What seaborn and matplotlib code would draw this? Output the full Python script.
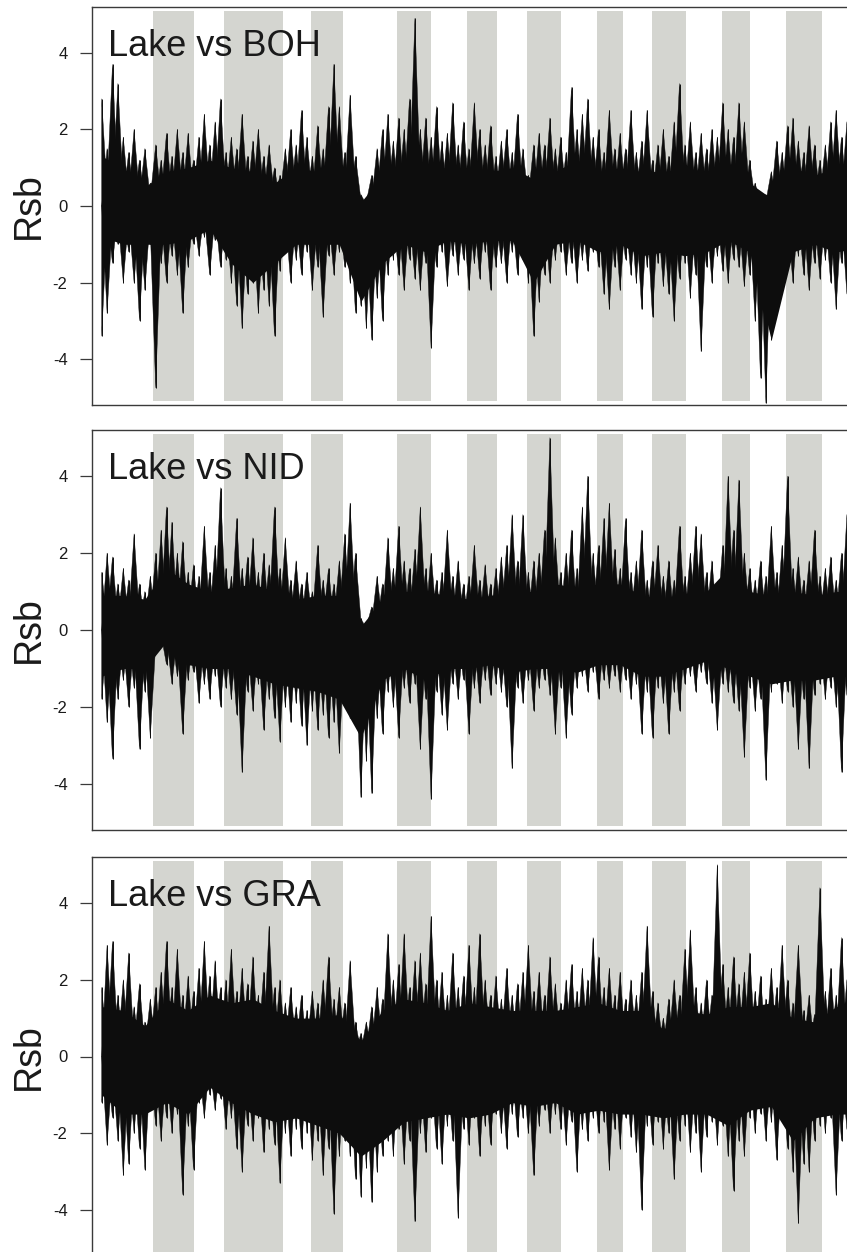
import numpy as np
import pandas as pd
import matplotlib
matplotlib.use("Agg")
import matplotlib.pyplot as plt
from matplotlib.collections import PolyCollection
import seaborn as sns

# ---------------- data ----------------
chrom_names = ["I", "II", "III", "IV", "V", "VI", "VII", "VIII", "IX", "X", "XI",
               "XII", "XIII", "XIV", "XV", "XVI", "XVII", "XVIII", "XIX", "XX", "XXI"]
chrom_len_mb = [28.5, 22.8, 16.6, 32.8, 15.6, 17.8, 30.0, 18.8, 20.0, 16.7, 16.7,
                18.9, 20.0, 14.4, 16.1, 18.9, 20.0, 15.6, 20.0, 20.0, 15.0]
window_mb = 3.0        # spacing of the peak (max / min) readings
body_window_mb = 12.0  # spacing of the dense-core readings

comparisons = ["Lake vs BOH", "Lake vs NID", "Lake vs GRA"]

# window maxima / minima of Rsb
boh_high = [2.8, 1.5, 3.7, 3.2, 1.8, 1.4, 2.0, 1.2, 1.5, 0.6, 1.6, 1.2, 1.9, 1.3, 2.0, 1.4, 1.9, 1.2, 1.8, 2.4,
            1.6, 2.2, 2.8, 1.4, 1.8, 1.5, 2.4, 1.3, 1.7, 2.0, 1.3, 1.6, 1.0, 0.8, 1.5, 2.0, 1.6, 2.5, 1.8, 1.3,
            2.1, 1.5, 2.6, 3.7, 2.6, 1.4, 2.9, 1.3, 0.3, 0.2, 0.8, 1.5, 2.0, 2.4, 1.7, 2.3, 2.0, 2.8, 4.9, 2.0,
            2.3, 1.8, 2.6, 1.7, 1.9, 2.7, 1.6, 2.2, 1.5, 2.7, 2.0, 1.6, 2.1, 1.3, 1.7, 2.0, 1.4, 2.4, 1.5, 0.8,
            1.6, 1.9, 1.6, 2.3, 1.5, 1.8, 1.4, 3.1, 2.0, 2.4, 2.8, 1.8, 2.0, 1.4, 2.5, 1.5, 1.9, 1.5, 2.5, 1.4,
            1.7, 2.5, 1.2, 1.6, 2.0, 1.3, 2.2, 3.2, 1.6, 2.2, 1.4, 1.9, 1.5, 2.0, 1.8, 2.7, 2.0, 1.8, 2.7, 2.2,
            1.2, 0.6, 0.2, 0.3, 0.9, 1.7, 1.4, 2.1, 2.3, 1.7, 1.4, 2.1, 1.6, 1.2, 1.6, 2.2, 2.5, 1.8, 2.2]
boh_low = [-3.4, -2.8, -1.5, -1.0, -2.0, -1.2, -2.0, -3.0, -2.2, -1.0, -4.75, -1.5, -2.0, -1.3, -1.8, -2.8,
           -1.6, -1.0, -1.3, -0.8, -1.8, -0.9, -1.6, -1.4, -2.0, -2.6, -3.2, -2.3, -2.0, -2.8, -2.2, -2.6,
           -3.4, -1.7, -1.2, -2.0, -1.4, -1.8, -1.2, -2.2, -1.6, -2.9, -1.3, -1.8, -1.2, -1.6, -2.0, -2.8,
           -2.6, -3.2, -3.5, -2.4, -3.0, -1.8, -1.4, -1.8, -2.2, -1.4, -1.9, -2.2, -1.5, -3.7, -1.6, -1.2,
           -2.1, -1.3, -1.8, -1.4, -2.2, -1.5, -1.9, -1.2, -2.2, -1.6, -1.5, -2.0, -1.2, -1.8, -1.4, -2.0,
           -3.4, -2.5, -1.8, -2.0, -1.4, -1.2, -1.8, -1.5, -2.0, -1.4, -1.7, -1.2, -1.6, -2.3, -2.7, -1.6,
           -2.2, -1.4, -1.8, -2.0, -2.7, -1.6, -2.9, -1.5, -2.1, -2.3, -3.0, -1.9, -1.5, -2.4, -1.8, -3.8,
           -1.6, -2.0, -1.3, -1.7, -2.0, -1.4, -1.6, -2.1, -1.8, -3.0, -4.5, -5.15, -3.5, -2.2, -1.4, -1.6,
           -2.0, -1.3, -1.8, -2.2, -1.5, -1.9, -1.4, -2.0, -2.7, -1.5, -2.3]

nid_high = [1.5, 2.0, 1.9, 1.2, 1.6, 1.3, 2.5, 1.2, 1.0, 1.4, 2.0, 2.6, 3.2, 2.8, 2.0, 2.3, 1.5, 1.7, 1.4, 2.7,
            1.5, 2.2, 3.7, 1.6, 1.4, 2.9, 1.6, 1.9, 2.4, 1.5, 2.0, 1.7, 3.2, 1.6, 2.4, 1.3, 1.8, 1.2, 1.5, 1.0,
            2.2, 1.3, 1.6, 1.2, 1.8, 2.5, 3.3, 2.0, 0.3, 0.2, 0.6, 1.4, 1.2, 2.4, 1.6, 2.7, 1.8, 1.6, 2.1, 3.2,
            1.6, 2.0, 1.3, 1.5, 2.6, 1.4, 1.8, 1.2, 1.4, 2.2, 1.3, 1.7, 1.2, 1.6, 1.9, 2.2, 3.0, 1.8, 3.0, 1.5,
            1.8, 2.0, 2.6, 5.0, 2.4, 1.5, 2.0, 2.6, 1.6, 3.2, 4.0, 2.0, 2.2, 2.9, 3.3, 2.1, 1.6, 2.9, 1.5, 1.8,
            2.6, 1.3, 1.8, 2.2, 1.4, 1.8, 1.3, 2.7, 1.4, 2.0, 2.7, 2.5, 1.5, 1.8, 1.2, 2.2, 4.0, 2.6, 3.9, 2.0,
            1.6, 1.3, 1.8, 1.4, 2.7, 1.5, 2.2, 4.0, 1.6, 1.9, 1.3, 1.8, 2.6, 1.4, 1.6, 1.9, 1.3, 2.0, 3.0]
nid_low = [-1.8, -2.4, -3.35, -1.8, -1.3, -2.0, -1.5, -3.1, -1.6, -2.8, -0.6, -0.4, -0.9, -1.4, -1.2, -2.7,
           -1.3, -1.1, -1.9, -1.4, -1.8, -1.2, -2.0, -1.5, -1.8, -2.2, -3.7, -1.6, -2.1, -1.4, -2.6, -1.8,
           -2.3, -2.9, -2.0, -2.4, -1.9, -2.5, -3.0, -2.1, -2.6, -2.2, -2.8, -2.4, -3.2, -2.0, -2.3, -2.0,
           -4.35, -3.4, -4.25, -2.3, -2.7, -1.6, -2.0, -2.8, -1.5, -1.9, -1.4, -3.1, -1.8, -4.4, -1.6, -2.2,
           -2.6, -1.4, -1.8, -1.3, -2.7, -1.5, -1.9, -1.3, -1.7, -1.4, -1.6, -2.0, -3.6, -1.5, -1.9, -1.3,
           -2.1, -1.5, -1.3, -1.7, -2.7, -1.5, -2.8, -2.2, -1.5, -1.2, -1.6, -1.1, -1.8, -1.3, -1.5, -1.2,
           -1.6, -1.3, -1.8, -1.4, -2.7, -1.6, -2.8, -1.5, -1.9, -2.7, -1.6, -2.1, -1.4, -1.2, -1.6, -1.1,
           -1.4, -1.9, -2.6, -1.4, -1.6, -1.9, -2.1, -3.3, -1.5, -2.1, -1.8, -3.9, -1.6, -1.4, -1.9, -1.6,
           -2.0, -3.1, -1.8, -3.6, -1.7, -1.4, -1.8, -1.5, -2.0, -3.7, -1.7]

gra_high = [1.8, 2.9, 3.0, 1.6, 2.0, 2.7, 1.3, 1.9, 0.9, 1.5, 1.8, 2.2, 3.0, 1.8, 2.8, 1.6, 2.1, 1.7, 2.3, 3.0,
            2.1, 2.5, 1.8, 2.0, 2.8, 1.7, 2.3, 1.9, 2.6, 1.6, 2.2, 3.4, 1.8, 2.0, 1.4, 1.8, 1.3, 1.6, 1.2, 1.7,
            1.4, 2.0, 2.6, 1.5, 1.8, 1.4, 2.5, 0.9, 0.6, 0.9, 1.3, 1.8, 1.5, 3.2, 2.0, 2.4, 3.2, 1.8, 2.5, 2.7,
            1.9, 3.65, 2.0, 2.2, 1.6, 2.7, 1.8, 2.1, 2.9, 1.8, 3.2, 2.0, 1.6, 2.1, 1.5, 2.3, 1.6, 1.9, 2.2, 2.9,
            1.7, 2.2, 1.6, 2.6, 1.9, 1.4, 2.0, 2.4, 1.7, 2.3, 2.0, 3.1, 2.6, 1.8, 2.3, 1.6, 2.2, 1.5, 2.0, 1.6,
            2.2, 3.4, 1.7, 1.4, 1.0, 1.5, 2.0, 1.6, 2.8, 3.3, 1.8, 1.4, 2.0, 1.6, 5.0, 2.4, 1.8, 2.6, 1.9, 2.2,
            2.7, 1.7, 2.1, 1.5, 2.3, 1.8, 2.9, 2.0, 1.4, 2.9, 1.2, 1.6, 1.1, 4.4, 1.7, 2.3, 1.6, 3.1, 2.0]
gra_low = [-1.2, -2.3, -1.6, -2.2, -3.1, -2.8, -2.0, -2.4, -2.95, -1.3, -1.8, -2.2, -1.6, -2.0, -1.5, -3.6,
           -1.8, -2.95, -1.2, -1.6, -1.0, -1.4, -1.1, -1.9, -1.6, -2.4, -3.0, -1.8, -2.2, -1.6, -2.5, -1.9,
           -2.3, -3.3, -2.0, -2.6, -1.9, -2.4, -2.0, -2.7, -2.2, -3.1, -2.4, -4.1, -2.6, -2.2, -2.6, -3.2,
           -3.65, -2.9, -3.8, -3.0, -2.6, -2.2, -2.6, -1.9, -2.8, -2.2, -4.3, -2.0, -2.5, -1.6, -2.4, -2.8,
           -1.8, -2.2, -4.2, -1.9, -2.3, -1.6, -2.6, -1.8, -2.3, -1.5, -2.0, -2.4, -1.5, -2.1, -1.6, -2.0,
           -3.1, -1.8, -1.4, -2.0, -1.5, -1.9, -2.3, -1.7, -3.0, -1.9, -2.2, -1.6, -2.0, -1.7, -2.95, -1.9,
           -2.4, -1.6, -2.1, -2.5, -4.0, -1.8, -2.3, -1.7, -2.4, -2.0, -3.2, -2.2, -1.8, -2.5, -2.0, -3.0,
           -2.1, -1.7, -2.3, -1.8, -2.6, -3.5, -2.2, -2.6, -1.6, -2.0, -1.5, -2.2, -1.7, -2.7, -1.6, -2.4,
           -3.0, -4.35, -2.8, -3.0, -2.2, -1.8, -2.0, -1.6, -3.6, -2.2, -1.9]

# extent of the dense black core
boh_core_high = [1.3, 1.0, 0.5, 0.9, 1.0, 1.2, 1.0, 0.9, 0.6, 1.0, 0.9, 1.1, 0.1, 0.8, 1.2, 1.0, 1.0, 1.0,
                 0.9, 1.0, 0.7, 0.9, 1.2, 0.9, 1.0, 0.9, 0.9, 1.0, 0.9, 1.0, 0.6, 0.2, 1.0, 0.8, 1.0, 1.0]
boh_core_low = [-0.8, -1.0, -1.0, -1.0, -0.9, -0.6, -1.5, -2.0, -1.5, -1.0, -1.0, -1.0, -2.5, -1.5, -1.0, -1.2,
                -0.9, -1.0, -0.9, -0.9, -2.0, -1.0, -0.9, -1.2, -1.0, -1.3, -1.2, -1.3, -1.2, -0.9, -1.2, -3.5,
                -1.2, -1.0, -1.2, -1.1]
nid_core_high = [0.9, 0.9, 0.8, 1.6, 1.2, 1.0, 1.1, 1.2, 1.0, 0.8, 0.9, 0.9, 0.1, 0.8, 1.0, 1.0, 0.9, 0.8,
                 0.9, 1.0, 1.0, 1.2, 1.1, 1.2, 1.2, 0.9, 0.8, 0.9, 1.0, 1.6, 1.0, 0.9, 1.0, 0.9, 1.0, 1.0]
nid_core_low = [-1.2, -1.0, -1.0, -0.3, -0.9, -1.0, -1.0, -1.2, -1.4, -1.5, -1.6, -1.8, -2.8, -1.3, -1.0, -1.3,
                -1.0, -1.0, -0.9, -1.1, -1.0, -1.0, -1.1, -0.9, -0.9, -1.2, -1.2, -1.0, -0.8, -1.0, -1.2, -1.4,
                -1.3, -1.3, -1.2, -1.2]
gra_core_high = [1.3, 1.2, 0.8, 1.5, 1.2, 1.6, 1.4, 1.5, 1.2, 1.0, 1.0, 1.1, 0.4, 1.2, 1.5, 1.4, 1.2, 1.4,
                 1.3, 1.2, 1.2, 1.2, 1.3, 1.4, 1.2, 1.2, 0.7, 1.2, 1.1, 1.3, 1.3, 1.4, 1.0, 0.9, 1.3, 1.3]
gra_core_low = [-1.0, -1.5, -1.5, -1.2, -1.5, -0.8, -1.2, -1.5, -1.7, -1.6, -1.8, -2.0, -2.6, -2.2, -1.7, -1.6,
                -1.5, -1.6, -1.5, -1.2, -1.3, -1.2, -1.5, -1.4, -1.5, -1.5, -1.6, -1.5, -1.5, -1.8, -1.4, -1.3,
                -2.2, -1.6, -1.5, -1.5]

panel_high = [boh_high, nid_high, gra_high]
panel_low = [boh_low, nid_low, gra_low]
panel_core_high = [boh_core_high, nid_core_high, gra_core_high]
panel_core_low = [boh_core_low, nid_core_low, gra_core_low]
yticks = [-4, -2, 0, 2, 4]

# ---------------- style ----------------
sns.set_theme(style="white")
plt.rcParams["font.family"] = ["Liberation Sans", "DejaVu Sans"]
plt.rcParams["axes.unicode_minus"] = False

W, H = 847, 1252
fig = plt.figure(figsize=(W / 100, H / 100), dpi=100)
fig.patch.set_facecolor("white")

# panel frames in pixels (left, top, right, bottom)
frames = [(92, 7, 847, 405), (92, 430, 847, 830), (92, 857, 847, 1256)]

band_color = "#d4d5d0"
ink = "#0d0d0d"
frame_col = "#3a3a3a"
spike_half = 1.15 * window_mb   # half base of each spike glyph

chrom_starts = np.concatenate([[0.0], np.cumsum(chrom_len_mb)[:-1]])
chrom_ends = np.cumsum(chrom_len_mb)
genome_start = 0.0


def spike_polys(x, v, hw):
    return [[(max(xi - hw, genome_start), 0.0), (xi, vi), (xi + hw, 0.0)] for xi, vi in zip(x, v)]


for k, (l, t, r, b) in enumerate(frames):
    ax = fig.add_axes([l / W, 1 - b / H, (r - l) / W, (b - t) / H])
    high = np.asarray(panel_high[k])
    low = np.asarray(panel_low[k])
    pos = np.arange(len(high)) * window_mb
    df = pd.DataFrame({"pos": pos, "high": high, "low": low})
    core = pd.DataFrame({"pos": np.arange(len(panel_core_high[k])) * body_window_mb,
                         "high": panel_core_high[k], "low": panel_core_low[k]})

    # alternating chromosome shading
    for i, (s, e) in enumerate(zip(chrom_starts, chrom_ends)):
        if i % 2 == 1:
            ax.fill_between([s, e], -5.1, 5.1, color=band_color, lw=0, zorder=0)

    # dense core
    ax.fill_between(core["pos"], 0, core["high"], color=ink, lw=0, zorder=2)
    ax.fill_between(core["pos"], core["low"], 0, color=ink, lw=0, zorder=2)
    # spikes
    for col in ["high", "low"]:
        pc = PolyCollection(spike_polys(df["pos"], df[col], spike_half),
                            facecolor=ink, edgecolor=ink, linewidth=0.3, zorder=3)
        ax.add_collection(pc)
    ax.vlines(df["pos"], df["low"], df["high"], color=ink, lw=0.7, zorder=3)
    sns.lineplot(data=df, x="pos", y="high", ax=ax, color=ink, lw=0.0,
                 estimator=None, legend=False, zorder=1)

    ax.set_xlim(-9.7 / 1.8, (W - 101.7) / 1.8)
    ax.set_ylim(-5.2, 5.2)
    ax.set_xticks([])
    ax.set_yticks(yticks)
    ax.set_yticklabels([str(v) for v in yticks])
    ax.set_xlabel("")
    ax.set_ylabel("Rsb", fontsize=27, color="#1a1a1a", labelpad=0)
    ax.yaxis.set_label_coords(-0.06, 0.5)
    ax.tick_params(axis="y", direction="out", length=8.6, width=0.9, pad=9,
                   labelsize=12, colors="#1a1a1a", left=True)
    ax.tick_params(axis="y", color=frame_col)
    for side in ["left", "top", "bottom"]:
        ax.spines[side].set_visible(True)
        ax.spines[side].set_color(frame_col)
        ax.spines[side].set_linewidth(1.0)
    ax.spines["right"].set_visible(False)
    ax.set_facecolor("white")
    ax.text(0.021, 0.945, comparisons[k], transform=ax.transAxes, ha="left", va="top",
            fontsize=26, color="#1a1a1a", zorder=5)

fig.savefig("out.png", dpi=100, facecolor="white")
